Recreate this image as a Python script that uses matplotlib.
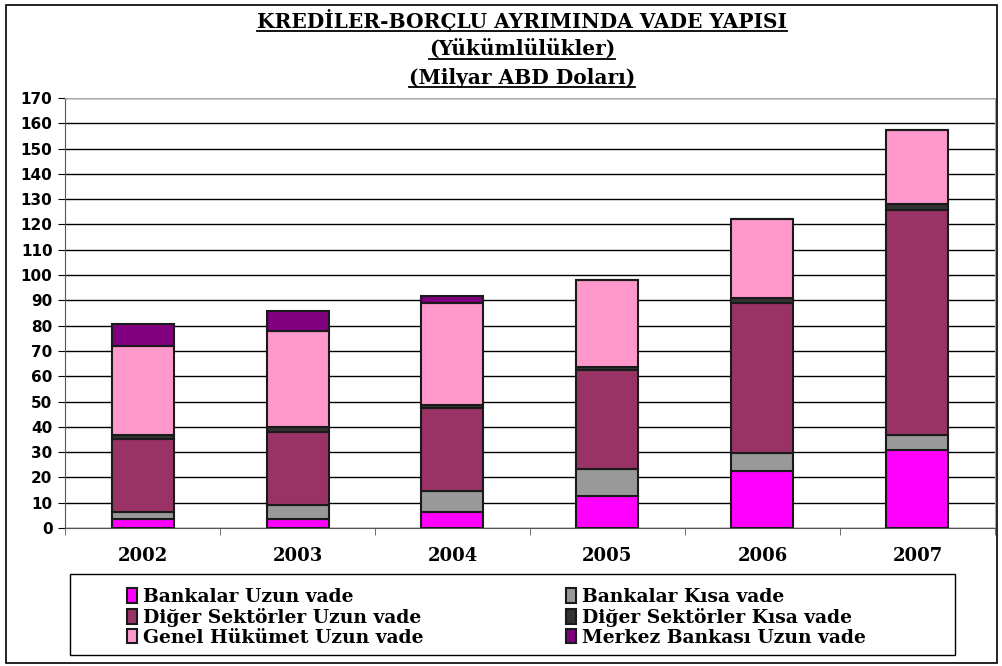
import numpy as np
import matplotlib
matplotlib.use("Agg")
import matplotlib.pyplot as plt
from matplotlib.lines import Line2D
from matplotlib.patches import Rectangle

years = ["2002", "2003", "2004", "2005", "2006", "2007"]

bankalar_uzun = [3.5, 3.5, 6.3, 12.7, 22.6, 31.0]
bankalar_kisa = [2.8, 5.6, 8.4, 10.7, 7.2, 5.8]
diger_uzun = [29.0, 28.9, 32.8, 38.9, 59.1, 88.9]
diger_kisa = [1.6, 1.8, 1.3, 1.5, 2.2, 2.2]
genel_uzun = [35.2, 38.0, 40.1, 34.4, 31.0, 29.5]
merkez_uzun = [8.7, 7.9, 3.0, 0.0, 0.0, 0.0]

series_names = [
    "Bankalar Uzun vade",
    "Bankalar Kısa vade",
    "Diğer Sektörler Uzun vade",
    "Diğer Sektörler Kısa vade",
    "Genel Hükümet Uzun vade",
    "Merkez Bankası Uzun vade",
]
series_values = [bankalar_uzun, bankalar_kisa, diger_uzun, diger_kisa, genel_uzun, merkez_uzun]
colors = ["#FF00FF", "#999999", "#993366", "#333333", "#FF99CC", "#800080"]

W, H = 1002, 666
fig = plt.figure(figsize=(W / 100, H / 100), dpi=100)

# outer chart frame
fig.add_artist(Rectangle((6 / W, 3 / H), (W - 11) / W, (H - 8) / H, transform=fig.transFigure,
                         fill=False, edgecolor="black", linewidth=1.2))

ax = fig.add_axes([65 / W, (H - 528) / H, 930 / W, 430 / H])

x = np.arange(len(years))
bottom = np.zeros(len(years))
handles = []
for name, vals, col in zip(series_names, series_values, colors):
    vals = np.array(vals)
    b = ax.bar(x, vals, width=0.4, bottom=bottom, color=col, edgecolor="#1a1a1a",
               linewidth=1.5, label=name, zorder=3)
    handles.append(b)
    bottom += vals

ax.set_xlim(-0.5, len(years) - 0.5)
ax.set_ylim(0, 170)
ax.set_yticks(np.arange(0, 171, 10))
ax.yaxis.grid(True, color="black", linewidth=1.0, zorder=0)
ax.set_axisbelow(True)

ax.set_xticks(x)
ax.set_xticklabels(years, fontfamily="DejaVu Serif", fontweight="bold", fontsize=13)
ax.set_xticks(np.arange(-0.5, len(years), 1), minor=True)
ax.tick_params(axis="x", which="major", length=0, pad=14)
ax.tick_params(axis="x", which="minor", length=5, direction="out", color="#555555")
ax.tick_params(axis="y", length=5, direction="out", pad=4)
for lab in ax.get_yticklabels():
    lab.set_fontfamily("DejaVu Sans")
    lab.set_fontweight("bold")
    lab.set_fontsize(11)

for side in ["top", "right"]:
    ax.spines[side].set_color("#aaaaaa")
ax.spines["left"].set_color("#555555")
ax.spines["bottom"].set_color("#555555")

# legend: framed box with two columns
fig.add_artist(Rectangle((70 / W, (H - 655) / H), 885 / W, 81 / H, transform=fig.transFigure,
                         fill=False, edgecolor="black", linewidth=1.0))
leg_prop = {"family": "DejaVu Serif", "weight": "bold", "size": 13.5}
col_idx = [[0, 2, 4], [1, 3, 5]]
col_x = [127, 566]
for idx, cx in zip(col_idx, col_x):
    leg = fig.legend(handles=[handles[i] for i in idx], labels=[series_names[i] for i in idx],
                     loc="upper left", bbox_to_anchor=(cx / W, 1 - 588 / H),
                     frameon=False, prop=leg_prop, handlelength=0.55, handleheight=0.8,
                     handletextpad=0.3, labelspacing=0.1, borderpad=0, borderaxespad=0)

# underlined title lines
titles = [("KREDİLER-BORÇLU AYRIMINDA VADE YAPISI", 20),
          ("(Yükümlülükler)", 50),
          ("(Milyar ABD Doları)", 78)]
texts = []
for t, ypix in titles:
    txt = fig.text(522 / W, 1 - ypix / H, t, ha="center", va="center",
                   fontfamily="DejaVu Serif", fontweight="bold", fontsize=14.5)
    texts.append(txt)

fig.canvas.draw()
renderer = fig.canvas.get_renderer()
for txt in texts:
    bb = txt.get_window_extent(renderer)
    yline = bb.y0 + 1
    fig.add_artist(Line2D([bb.x0 / W, bb.x1 / W], [yline / H, yline / H],
                          transform=fig.transFigure, color="black", linewidth=1.3))

fig.savefig("out.png", dpi=100)
